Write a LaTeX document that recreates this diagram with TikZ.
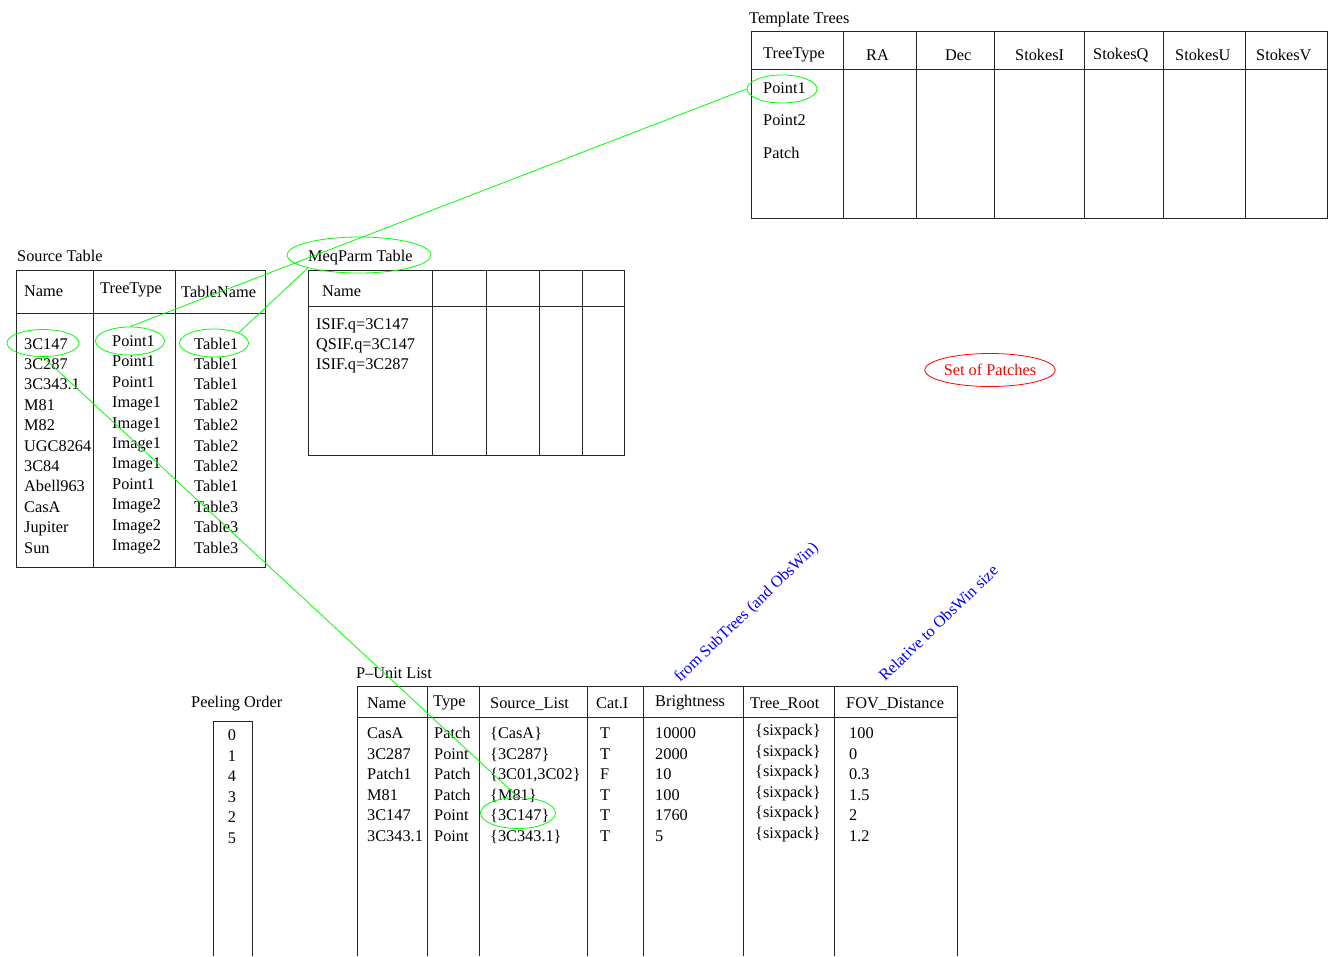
\documentclass[tikz,border=0pt]{standalone}
\usepackage{fontspec}
\setmainfont{Liberation Serif}
\usetikzlibrary{positioning, shapes.geometric}

\begin{document}
\begin{tikzpicture}[x=1pt, y=-1pt, font=\fontsize{16.3}{19}\selectfont,
    every node/.style={inner sep=0pt, anchor=base west},
    grid/.style={draw=black!85, line width=1pt},
    ring/.style={draw=green, ellipse, anchor=center, line width=0.8pt},
    note/.style={text=blue, rotate=44}]
  \useasboundingbox (0,0) rectangle (1329,956);

  % Template Trees
  \node (tt) at (749,23) {Template Trees};
  \draw[grid] (751,31) rectangle (1327,218) (751,69) -- (1327,69);
  \foreach \x in {843,916,994,1084,1163,1245} \draw[grid] (\x,31) -- (\x,218);
  \foreach \t/\x/\y [count=\i] in {TreeType/763/58, RA/866/60, Dec/945/60,
      StokesI/1015/60, StokesQ/1093/59, StokesU/1175/60, StokesV/1256/60}
    \node (th\i) at (\x,\y) {\t};
  \foreach \t/\y [count=\i] in {Point1/93, Point2/125.5, Patch/158.5}
    \node (tr\i) at (763,\y) {\t};

  % Source Table
  \node (st) at (17,261) {Source Table};
  \draw[grid] (16,270) rectangle (265,567) (16,313) -- (265,313)
    (93,270) -- (93,567) (175,270) -- (175,567);
  \node (sh1) at (24,296) {Name};
  \node (sh2) at (100,293) {TreeType};
  \node (sh3) at (181,297) {TableName};
  \foreach \a/\b/\c [count=\i from 0] in {3C147/Point1/Table1, 3C287/Point1/Table1,
      3C343.1/Point1/Table1, M81/Image1/Table2, M82/Image1/Table2,
      UGC8264/Image1/Table2, 3C84/Image1/Table2, Abell963/Point1/Table1,
      CasA/Image2/Table3, Jupiter/Image2/Table3, Sun/Image2/Table3} {
    \node (sn\i) at (24,349+20.4*\i) {\a};
    \node (sy\i) at (112,346.5+20.4*\i) {\b};
    \node (sc\i) at (194,349+20.4*\i) {\c};
  }

  % MeqParm Table
  \node (mt) at (308,261) {MeqParm Table};
  \draw[grid] (308,270) rectangle (624,455) (308,306) -- (624,306);
  \foreach \x in {432,486,539,582} \draw[grid] (\x,270) -- (\x,455);
  \node (mh) at (322,296) {Name};
  \foreach \t [count=\i from 0] in {ISIF.q=3C147, QSIF.q=3C147, ISIF.q=3C287}
    \node (mr\i) at (316,329+20.2*\i) {\t};

  % P-Unit List
  \node (pt) at (356,678) {P--Unit List};
  \draw[grid] (357,956) -- (357,686) -- (957,686) -- (957,956) (357,717) -- (957,717);
  \foreach \x in {427,479,587,643,743,834} \draw[grid] (\x,686) -- (\x,956);
  \foreach \t/\x/\y [count=\i] in {Name/367/708, Type/433/706, Source\_List/490/708,
      Cat.I/596/708, Brightness/655/706, Tree\_Root/750/708, FOV\_Distance/846/708}
    \node (ph\i) at (\x,\y) {\t};
  \foreach \a/\b/\c/\d/\e/\f [count=\i from 0] in {CasA/Patch/\{CasA\}/T/10000/100,
      3C287/Point/\{3C287\}/T/2000/0, {Patch1/Patch/\{3C01,3C02\}/F/10/0.3},
      M81/Patch/\{M81\}/T/100/1.5, 3C147/Point/\{3C147\}/T/1760/2,
      3C343.1/Point/\{3C343.1\}/T/5/1.2} {
    \node (pa\i) at (367,738.5+20.5*\i) {\a};
    \node (pb\i) at (434,738.5+20.5*\i) {\b};
    \node (pc\i) at (490,738.5+20.5*\i) {\c};
    \node (pd\i) at (600,738.5+20.5*\i) {\d};
    \node (pe\i) at (655,738.5+20.5*\i) {\e};
    \node (pf\i) at (755,735.5+20.5*\i) {\{sixpack\}};
    \node (pg\i) at (849,738.5+20.5*\i) {\f};
  }
  \node[note] (n1) at (680,683) {from SubTrees (and ObsWin)};
  \node[note] (n2) at (885,682) {Relative to ObsWin size};

  % Peeling Order
  \node (po) at (191,707) {Peeling Order};
  \draw[grid] (213,956) -- (213,721) -- (252,721) -- (252,956);
  \foreach \n [count=\i from 0] in {0,1,4,3,2,5}
    \node[anchor=base] (pn\i) at (232,740.5+20.5*\i) {\n};

  % rings and links
  \node[ring, minimum width=70pt, minimum height=28pt] (tRing) at (782,89) {};
  \node[ring, minimum width=72pt, minimum height=27pt] (sNameRing) at (43,343) {};
  \node[ring, minimum width=69pt, minimum height=28pt] (sTypeRing) at (130,341) {};
  \node[ring, minimum width=69pt, minimum height=28pt] (sTabRing) at (214,343) {};
  \node[ring, minimum width=144pt, minimum height=36pt] (mRing) at (359,255) {};
  \node[ring, minimum width=75pt, minimum height=31pt] (pRing) at (518,813) {};
  \node[ring, draw=red, text=red, minimum width=124pt, minimum height=33pt] (patches) at (990,370) {Set of Patches};
  \path[green, line width=0.8pt]
    (sTypeRing.north) edge (tRing.west)
    (sTabRing.north east) edge (mRing.south west)
    (sNameRing.south) edge (pRing.north);
\end{tikzpicture}
\end{document}
